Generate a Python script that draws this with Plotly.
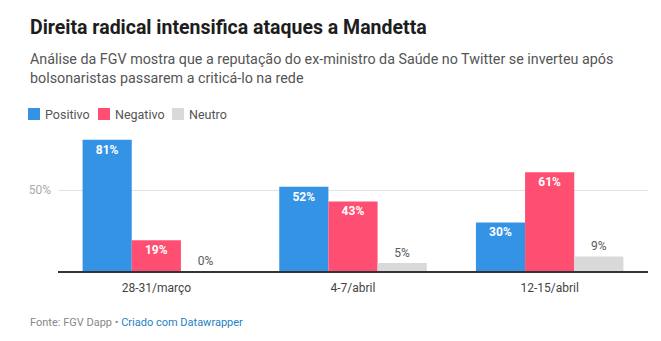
import plotly.graph_objects as go

# Periods and sentiment shares (%)
periods = ["28-31/março", "4-7/abril", "12-15/abril"]
series_names = ["Positivo", "Negativo", "Neutro"]
positivo = [81, 52, 30]
negativo = [19, 43, 61]
neutro = [0, 5, 9]
y_ticks = [50]
y_tick_labels = ["50%"]

colors = ["#3593e6", "#fe4f72", "#d9d9d9"]
values = [positivo, negativo, neutro]

FONT = "Roboto"

fig = go.Figure()
for name, vals, col in zip(series_names, values, colors):
    inside = name != "Neutro"
    fig.add_trace(go.Bar(
        x=periods, y=vals, name=name,
        marker=dict(color=col, line=dict(width=0)),
        text=[f"{v}%" for v in vals],
        textposition="inside" if inside else "outside",
        insidetextanchor="end",
        textangle=0,
        cliponaxis=False,
        textfont=dict(family=FONT, size=12,
                      weight="bold" if inside else "normal",
                      color="#ffffff" if inside else "#5a5a5a"),
        constraintext="none",
    ))

fig.update_layout(
    width=661, height=341,
    margin=dict(l=58, r=13, t=135, b=70),
    paper_bgcolor="white", plot_bgcolor="white",
    barmode="group", bargap=0.25, bargroupgap=0,
    showlegend=False,
    font=dict(family=FONT, color="#333333"),
    xaxis=dict(showgrid=False, ticks="", showline=True, linecolor="#333333",
               linewidth=1.5, ticklabelstandoff=5,
               tickfont=dict(size=12, color="#444444"), fixedrange=True),
    yaxis=dict(range=[0, 84], tickvals=y_ticks, ticktext=y_tick_labels,
               showgrid=True, gridcolor="#e3e3e3", gridwidth=1,
               zeroline=False, showline=False, ticks="", ticklabelstandoff=6,
               tickfont=dict(size=12, color="#aaaaaa"), fixedrange=True),
)

# Pixel helpers relative to the plot area
plot_left, plot_right = 58, 661 - 13
plot_top, plot_bottom = 135, 271
def py(pix):
    return (plot_bottom - pix) / (plot_bottom - plot_top)
def px(pix):
    return (pix - plot_left) / (plot_right - plot_left)

TEXT_X = 28

# Title, subtitle and footer
fig.add_annotation(text="<b>Direita radical intensifica ataques a Mandetta</b>",
                   xref="paper", yref="paper", x=px(TEXT_X), y=py(28),
                   xanchor="left", yanchor="middle", showarrow=False,
                   font=dict(family=FONT, size=19.5, color="#1d1d1d"))
fig.add_annotation(text="Análise da FGV mostra que a reputação do ex-ministro da Saúde no Twitter se inverteu após<br>bolsonaristas passarem a criticá-lo na rede",
                   xref="paper", yref="paper", x=px(TEXT_X), y=py(68),
                   xanchor="left", yanchor="middle", align="left", showarrow=False,
                   font=dict(family=FONT, size=14.3, color="#555555"))
fig.add_annotation(text="Fonte: FGV Dapp • <span style='color:#1d81c4'>Criado com Datawrapper</span>",
                   xref="paper", yref="paper", x=px(TEXT_X), y=py(322),
                   xanchor="left", yanchor="middle", showarrow=False,
                   font=dict(family=FONT, size=11, color="#888888"))

# Legend: coloured squares with labels
legend_x = [28, 98, 172]
for name, col, lx in zip(series_names, colors, legend_x):
    fig.add_shape(type="rect", xref="paper", yref="paper",
                  x0=px(lx), x1=px(lx + 12), y0=py(120), y1=py(108),
                  fillcolor=col, line=dict(width=0))
    fig.add_annotation(text=name, xref="paper", yref="paper",
                       x=px(lx + 15), y=py(114), xanchor="left", yanchor="middle",
                       showarrow=False, font=dict(family=FONT, size=12.5, color="#555555"))

fig.write_html("out.html")
